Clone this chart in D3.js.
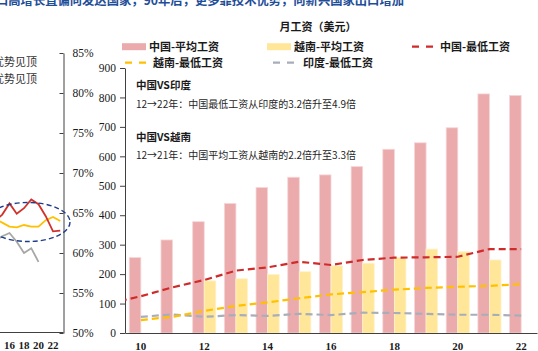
<!DOCTYPE html>
<html>
<head>
<meta charset="utf-8">
<script src="https://cdn.jsdelivr.net/npm/d3@7"></script>
<style>
  html, body { margin: 0; padding: 0; background: #fff; overflow: hidden; }
  svg { display: block; }
  .cjk { font-family: "Noto Sans CJK SC", "Noto Sans", sans-serif; }
  .num { font-family: "Liberation Serif", "DejaVu Serif", serif; }
</style>
</head>
<body>
<svg id="chart" width="538" height="351"></svg>
<script>
// ---- main chart data: monthly wage, USD ----
let years = [2010, 2011, 2012, 2013, 2014, 2015, 2016, 2017, 2018, 2019, 2020, 2021, 2022];
let xTickYears = [2010, 2012, 2014, 2016, 2018, 2020, 2022];
let yTicks = [0, 100, 200, 300, 400, 500, 600, 700, 800, 900];
let chinaAvg = [256, 316, 378, 440, 494, 529, 537, 565, 624, 646, 697, 812, 807];
let vietnamAvg = [null, null, 177, 184, 199, 208, 228, 237, 257, 285, 276, 248, null];
// min wage lines (china line runs off the left edge, so one more year in front)
let minYears = [2009, 2010, 2011, 2012, 2013, 2014, 2015, 2016, 2017, 2018, 2019, 2020, 2021, 2022];
let chinaMin = [100, 125, 155, 180, 212, 223, 242, 231, 248, 256, 257, 259, 285, 285];
let vietnamMin = [null, 44, 55, 75, 92, 104, 118, 131, 139, 147, 153, 157, 160, 166];
let indiaMin = [null, 55, 63, 55, 61, 58, 65, 61, 69, 68, 65, 62, 62, 59];

// ---- left (cut off) panel: share, % ----
let leftYears = [2014, 2015, 2016, 2017, 2018, 2019, 2020, 2021, 2022, 2023];
let leftTickYears = [2016, 2018, 2020, 2022];
let leftTicks = [50, 55, 60, 65, 70, 75, 80, 85];
let leftRed = [64.0, 64.8, 66.2, 64.9, 65.6, 66.7, 66.1, 64.6, 62.7, 62.8];
let leftYellow = [64.2, 63.8, 63.3, 63.2, 63.5, 63.3, 63.3, 64.1, 64.5, 64.0];
let leftGrey = [61.5, 62.1, 62.5, 61.4, 60.0, 60.6, 58.9, null, null, null];

let titleText = "出口高增长直偏向发达国家，90年后，更多靠技术优势，向新兴国家出口增加";
let leftNotes = ["成本优势见顶", "人口优势见顶"];
let notes = [
    { head: "中国VS印度", body: "12→22年：中国最低工资从印度的3.2倍升至4.9倍" },
    { head: "中国VS越南", body: "12→21年：中国平均工资从越南的2.2倍升至3.3倍" }
];

let colors = {
    cnAvg: "#EBABAD",
    vnAvg: "#FFE699",
    cnMin: "#CF2B2B",
    vnMin: "#FFC000",
    inMin: "#A8AEB9",
    axis: "#404040",
    text: "#1a1a1a"
};

let svg = d3.select("#chart");

// title, mostly cropped by the top edge
svg.append("text")
    .attr("class", "cjk")
    .attr("x", 404).attr("y", 5)
    .attr("text-anchor", "end")
    .style("font-size", "12.3px").style("font-weight", "bold")
    .style("fill", "#1f4e99")
    .text(titleText);

// ================= left panel =================
let xL = d3.scaleLinear().domain([2016, 2022]).range([9.5, 53]);
let yL = d3.scaleLinear().domain([50, 85]).range([333, 53]);
let left = svg.append("g").attr("class", "leftPanel");

left.selectAll("text.note")
    .data(leftNotes)
    .join("text")
    .attr("class", "note cjk")
    .attr("x", 37)
    .attr("y", (d, i) => 65.5 + i * 17.6)
    .attr("text-anchor", "end")
    .style("font-size", "11px")
    .style("fill", "#333")
    .text(d => d);

let leftAxis = left.append("g")
    .attr("transform", "translate(63.5,0)")
    .call(d3.axisRight(yL).tickValues(leftTicks).tickFormat(d => d + "%")
        .tickSize(-4).tickSizeOuter(0).tickPadding(9));
leftAxis.select(".domain").attr("stroke", colors.axis);
leftAxis.selectAll(".tick line").attr("stroke", colors.axis);
leftAxis.selectAll("text").attr("class", "num").style("font-size", "11.5px").style("fill", colors.text);

left.append("line")
    .attr("x1", -5).attr("x2", 63.5)
    .attr("y1", 332.5).attr("y2", 332.5)
    .attr("stroke", colors.axis);

left.selectAll("text.xl")
    .data(leftTickYears)
    .join("text")
    .attr("class", "xl num")
    .attr("x", d => xL(d))
    .attr("y", 349)
    .attr("text-anchor", "middle")
    .style("font-size", "11px").style("font-weight", "bold")
    .style("fill", colors.text)
    .text(d => String(d).slice(2));

let leftLine = d3.line()
    .defined(d => d[1] != null)
    .x(d => xL(d[0]))
    .y(d => yL(d[1]));

[[leftGrey, "#A6A6A6"], [leftYellow, "#FFC000"], [leftRed, "#D0312D"]].forEach(([vals, c]) => {
    left.append("path")
        .datum(leftYears.map((yr, i) => [yr, vals[i]]))
        .attr("d", leftLine)
        .attr("fill", "none")
        .attr("stroke", c)
        .attr("stroke-width", 1.8);
});

left.append("ellipse")
    .attr("cx", 28).attr("cy", 222)
    .attr("rx", 42).attr("ry", 19.5)
    .attr("fill", "none")
    .attr("stroke", "#1F3C88")
    .attr("stroke-width", 1.4)
    .attr("stroke-dasharray", "5,3");

// ================= main chart =================
let plot = { left: 125, right: 537, top: 68, bottom: 333 };

let x0 = d3.scaleBand().domain(years)
    .range([plot.left, plot.right])
    .paddingInner(0.27).paddingOuter(0.135);
let x1 = d3.scaleBand().domain(["cn", "vn"]).range([0, x0.bandwidth()]);
let y = d3.scaleLinear().domain([0, 900]).range([plot.bottom, plot.top]);
let xMid = yr => x0(yr) != null ? x0(yr) + x0.bandwidth() / 2 : x0(yr + 1) + x0.bandwidth() / 2 - x0.step();

svg.append("clipPath").attr("id", "plotClip")
    .append("rect")
    .attr("x", plot.left).attr("y", plot.top - 20)
    .attr("width", plot.right - plot.left).attr("height", plot.bottom - plot.top + 20);

let main = svg.append("g").attr("class", "main");

let yAxis = main.append("g")
    .attr("transform", `translate(${plot.left},0)`)
    .call(d3.axisLeft(y).tickValues(yTicks).tickSize(5).tickSizeOuter(0).tickPadding(4));
yAxis.select(".domain").attr("stroke", colors.axis);
yAxis.selectAll(".tick line").attr("stroke", colors.axis);
yAxis.selectAll("text").attr("class", "num").style("font-size", "11.5px").style("fill", colors.text);

// bars
let barData = [];
years.forEach((yr, i) => {
    barData.push({ yr: yr, key: "cn", v: chinaAvg[i] });
    if (vietnamAvg[i] != null) barData.push({ yr: yr, key: "vn", v: vietnamAvg[i] });
});
main.append("g").selectAll("rect")
    .data(barData)
    .join("rect")
    .attr("x", d => x0(d.yr) + x1(d.key))
    .attr("y", d => y(d.v))
    .attr("width", x1.bandwidth())
    .attr("height", d => y(0) - y(d.v))
    .attr("fill", d => d.key === "cn" ? colors.cnAvg : colors.vnAvg)
    .attr("stroke", d => d.key === "cn" ? "#F6D6D7" : "#FFF2CC")
    .attr("stroke-width", 0.8);

let xAxis = main.append("g")
    .attr("transform", `translate(0,${plot.bottom})`)
    .call(d3.axisBottom(x0).tickValues(xTickYears).tickFormat(d => String(d).slice(2))
        .tickSize(0).tickPadding(9));
xAxis.select(".domain").attr("stroke", colors.axis);
xAxis.selectAll("text").attr("class", "num")
    .style("font-size", "11px").style("font-weight", "bold").style("fill", colors.text);

// min wage dashed lines
let minLine = d3.line()
    .defined(d => d[1] != null)
    .x(d => xMid(d[0]))
    .y(d => y(d[1]));
let lineG = main.append("g").attr("clip-path", "url(#plotClip)");
[[indiaMin, colors.inMin], [vietnamMin, colors.vnMin], [chinaMin, colors.cnMin]].forEach(([vals, c]) => {
    lineG.append("path")
        .datum(minYears.map((yr, i) => [yr, vals[i]]))
        .attr("d", minLine)
        .attr("fill", "none")
        .attr("stroke", c)
        .attr("stroke-width", 2.2)
        .attr("stroke-dasharray", "7,4");
});

// annotations
let noteG = main.append("g").attr("class", "cjk");
notes.forEach((n, i) => {
    noteG.append("text")
        .attr("x", 136).attr("y", 88.8 + i * 51.7)
        .style("font-size", "10.5px").style("font-weight", "bold")
        .style("fill", colors.text)
        .text(n.head);
    noteG.append("text")
        .attr("x", 136).attr("y", 107.6 + i * 51)
        .style("font-size", "10px")
        .style("fill", "#262626")
        .text(n.body);
});

// legend
let legend = svg.append("g").attr("class", "cjk")
    .style("font-size", "11px").style("font-weight", "bold").style("fill", colors.text);
legend.append("text")
    .attr("x", 318).attr("y", 31)
    .attr("text-anchor", "middle")
    .text("月工资（美元）");

let legendItems = [
    { label: "中国-平均工资", type: "bar", color: colors.cnAvg, x: 122, row: 0, tx: 149 },
    { label: "越南-平均工资", type: "bar", color: colors.vnAvg, x: 267, row: 0, tx: 294 },
    { label: "中国-最低工资", type: "dash", color: colors.cnMin, x: 412, row: 0, tx: 440 },
    { label: "越南-最低工资", type: "dash", color: colors.vnMin, x: 125, row: 1, tx: 153 },
    { label: "印度-最低工资", type: "dash", color: colors.inMin, x: 273, row: 1, tx: 303 }
];
legendItems.forEach(it => {
    let cy = 46.7 + it.row * 16;
    if (it.type === "bar") {
        legend.append("rect")
            .attr("x", it.x).attr("y", cy - 3.5)
            .attr("width", 24).attr("height", 7)
            .attr("fill", it.color);
    } else {
        legend.append("line")
            .attr("x1", it.x).attr("x2", it.x + 21)
            .attr("y1", cy).attr("y2", cy)
            .attr("stroke", it.color)
            .attr("stroke-width", 2.2)
            .attr("stroke-dasharray", "7,7");
    }
    legend.append("text")
        .attr("x", it.tx).attr("y", cy + 3.9)
        .text(it.label);
});
</script>
</body>
</html>
